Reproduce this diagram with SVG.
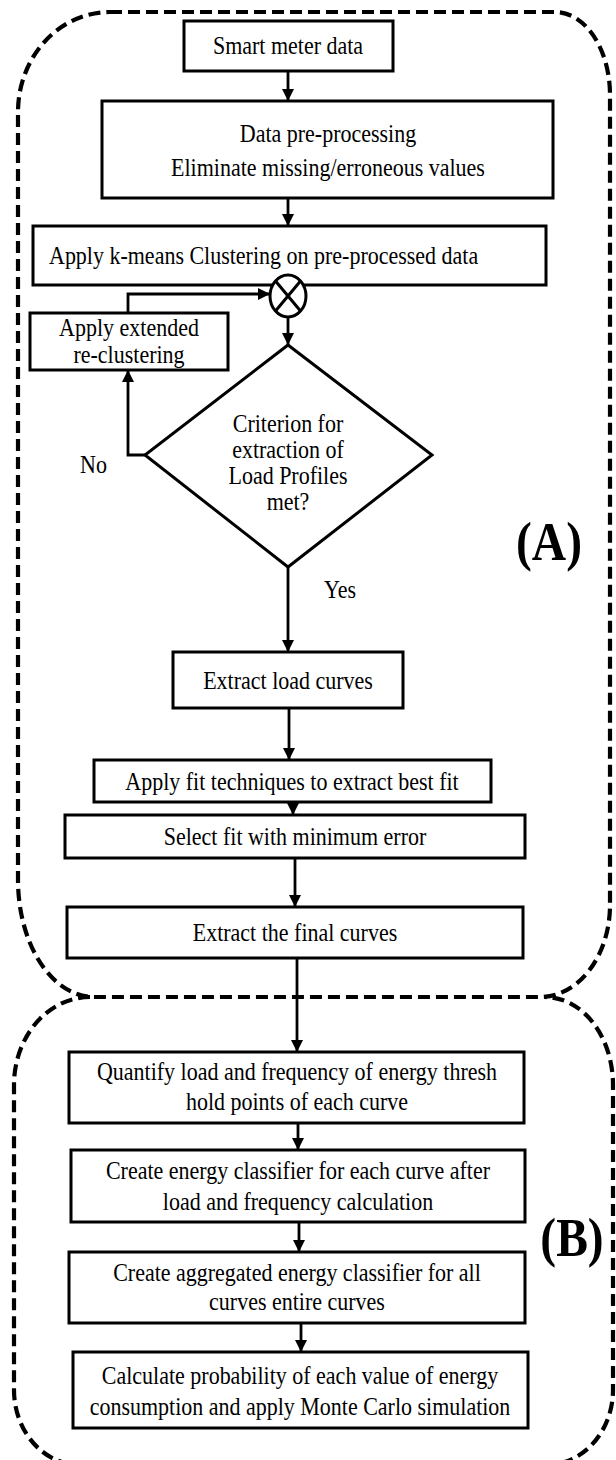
<svg xmlns="http://www.w3.org/2000/svg" width="616" height="1460" viewBox="0 0 616 1460">
<style>
.box{fill:#fff;stroke:#000;stroke-width:3}
.t{font-family:"Liberation Serif","Times New Roman",serif;font-size:25px;fill:#000;text-anchor:middle}
.ts{font-family:"Liberation Serif","Times New Roman",serif;font-size:25px;fill:#000;text-anchor:start}
.big{font-family:"Liberation Serif","Times New Roman",serif;font-size:54px;font-weight:bold;fill:#000;text-anchor:middle}
.dash{fill:none;stroke:#000;stroke-width:4.2;stroke-dasharray:12 6}
.c{fill:none;stroke:#000;stroke-width:2.8}
</style>
<defs>
<marker id="ah" viewBox="0 0 12 12" refX="12" refY="6" markerWidth="12" markerHeight="12" markerUnits="userSpaceOnUse" orient="auto">
<path d="M0,0 L12,6 L0,12 Z" fill="#000"/>
</marker>
</defs>
<rect width="616" height="1460" fill="#fff"/>
<g id="regionA">
<path class="dash" d="M110,12 H555 A55,83 0 0 1 610,95 V905 A70,92 0 0 1 540,997 H94 A76,117 0 0 1 18,880 V112 A92,100 0 0 1 110,12 Z"/>
<text class="big" transform="translate(549 560) scale(0.88 1)">(A)</text>
</g>
<g id="regionB">
<path class="dash" d="M90,997 A76,88 0 0 0 14,1085 V1390 A66,75 0 0 0 80,1465 H546 A67,75 0 0 0 613,1390 V1085 A68,88 0 0 0 545,997"/>
<text class="big" transform="translate(572 1256) scale(0.88 1)">(B)</text>
</g>
<g id="connectors">
<line class="c" x1="288" y1="71" x2="288" y2="101" marker-end="url(#ah)"/>
<line class="c" x1="288" y1="198" x2="288" y2="226" marker-end="url(#ah)"/>
<line class="c" x1="288" y1="285" x2="288" y2="276" marker-end="url(#ah)"/>
<line class="c" x1="288" y1="318" x2="288" y2="345" marker-end="url(#ah)"/>
<polyline class="c" points="145,455 128,455 128,370" marker-end="url(#ah)"/>
<polyline class="c" points="128,313 128,294 270,294" marker-end="url(#ah)"/>
<line class="c" x1="288" y1="567" x2="288" y2="652" marker-end="url(#ah)"/>
<line class="c" x1="289" y1="708" x2="289" y2="760" marker-end="url(#ah)"/>
<line class="c" x1="293" y1="802" x2="293" y2="815" marker-end="url(#ah)"/>
<line class="c" x1="295" y1="858" x2="295" y2="907" marker-end="url(#ah)"/>
<line class="c" x1="297" y1="958" x2="297" y2="1052" marker-end="url(#ah)"/>
<line class="c" x1="298" y1="1123" x2="298" y2="1150" marker-end="url(#ah)"/>
<line class="c" x1="299" y1="1222" x2="299" y2="1252" marker-end="url(#ah)"/>
<line class="c" x1="301" y1="1323" x2="301" y2="1352" marker-end="url(#ah)"/>
<text class="ts" transform="translate(80 473) scale(0.88 1)">No</text>
<text class="ts" transform="translate(324 598) scale(0.88 1)">Yes</text>
</g>
<g id="smart">
<rect class="box" x="184" y="21" width="209" height="50"/>
<text class="t" transform="translate(288 54) scale(0.88 1)">Smart meter data</text>
</g>
<g id="preproc">
<rect class="box" x="102" y="101" width="451" height="97"/>
<text class="t" transform="translate(328 142) scale(0.88 1)">Data pre-processing</text>
<text class="t" transform="translate(328 176) scale(0.88 1)">Eliminate missing/erroneous values</text>
</g>
<g id="kmeans">
<rect class="box" x="33" y="226" width="513" height="59"/>
<text class="ts" transform="translate(49 264) scale(0.88 1)">Apply k-means Clustering on pre-processed data</text>
</g>
<g id="junction">
<ellipse cx="288" cy="296" rx="18" ry="21" fill="#fff" stroke="#000" stroke-width="3"/>
<line x1="275.5" y1="281" x2="300.5" y2="311" stroke="#000" stroke-width="3"/>
<line x1="300.5" y1="281" x2="275.5" y2="311" stroke="#000" stroke-width="3"/>
</g>
<g id="recluster">
<rect class="box" x="30" y="313" width="198" height="57"/>
<text class="t" transform="translate(129 336) scale(0.88 1)">Apply extended</text>
<text class="t" transform="translate(129 363) scale(0.88 1)">re-clustering</text>
</g>
<g id="criterion">
<polygon class="box" points="288,345 432,455 288,567 145,455"/>
<text class="t" transform="translate(288 432) scale(0.88 1)">Criterion for</text>
<text class="t" transform="translate(288 458) scale(0.88 1)">extraction of</text>
<text class="t" transform="translate(288 484) scale(0.88 1)">Load Profiles</text>
<text class="t" transform="translate(288 510) scale(0.88 1)">met?</text>
</g>
<g id="extractload">
<rect class="box" x="173" y="652" width="230" height="56"/>
<text class="t" transform="translate(288 689) scale(0.88 1)">Extract load curves</text>
</g>
<g id="applyfit">
<rect class="box" x="94" y="760" width="397" height="42"/>
<text class="t" transform="translate(292 790) scale(0.88 1)">Apply fit techniques to extract best fit</text>
</g>
<g id="selectfit">
<rect class="box" x="65" y="815" width="460" height="43"/>
<text class="t" transform="translate(295 845) scale(0.88 1)">Select fit with minimum error</text>
</g>
<g id="extractfinal">
<rect class="box" x="67" y="907" width="456" height="51"/>
<text class="t" transform="translate(295 941) scale(0.88 1)">Extract the final curves</text>
</g>
<g id="quantify">
<rect class="box" x="69" y="1052" width="455" height="71"/>
<text class="t" transform="translate(297 1080) scale(0.88 1)">Quantify load and frequency of energy thresh</text>
<text class="t" transform="translate(297 1110) scale(0.88 1)">hold points of each curve</text>
</g>
<g id="classifier">
<rect class="box" x="71" y="1150" width="454" height="72"/>
<text class="t" transform="translate(298 1179) scale(0.88 1)">Create energy classifier for each curve after</text>
<text class="t" transform="translate(298 1210) scale(0.88 1)">load and frequency calculation</text>
</g>
<g id="aggregated">
<rect class="box" x="69" y="1252" width="456" height="71"/>
<text class="t" transform="translate(297 1281) scale(0.88 1)">Create aggregated energy classifier for all</text>
<text class="t" transform="translate(297 1310) scale(0.88 1)">curves entire curves</text>
</g>
<g id="montecarlo">
<rect class="box" x="73" y="1352" width="455" height="76"/>
<text class="t" transform="translate(300 1384) scale(0.88 1)">Calculate probability of each value of energy</text>
<text class="t" transform="translate(300 1415) scale(0.88 1)">consumption and apply Monte Carlo simulation</text>
</g>
</svg>
